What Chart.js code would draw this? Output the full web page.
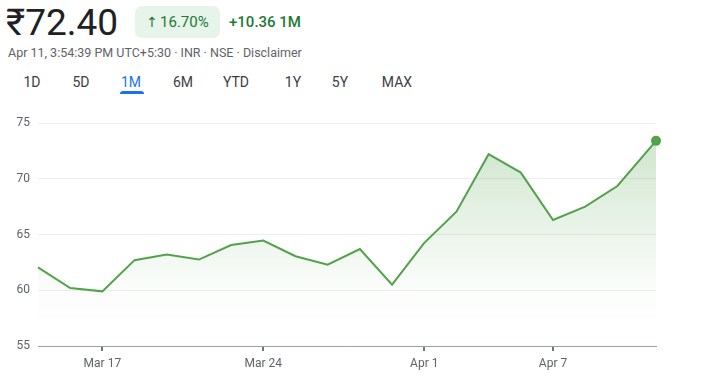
<!DOCTYPE html>
<html>
<head>
<meta charset="utf-8">
<script src="https://cdn.jsdelivr.net/npm/chart.js@4"></script>
<style>
  body {
    margin: 0;
    width: 701px;
    height: 385px;
    background: #fff;
    font-family: Roboto, sans-serif;
    position: relative;
    overflow: hidden;
  }

  .abs {
    position: absolute;
    white-space: nowrap;
  }

  #price {
    left: 6px;
    top: 1px;
    font-size: 37px;
    color: #202124;
    line-height: 44px;
  }

  #badge {
    left: 135px;
    top: 6px;
    width: 85px;
    height: 32px;
    background: #e6f4ea;
    border-radius: 7px;
    color: #1e7a34;
    font-size: 15px;
    line-height: 32px;
    text-align: center;
  }

  #badge .arrow {
    font-family: 'DejaVu Sans', sans-serif;
    font-size: 14px;
    margin-right: 2px;
  }

  #change {
    left: 229px;
    top: 6px;
    line-height: 32px;
    font-size: 15px;
    font-weight: 500;
    color: #1e7a34;
  }

  #sub {
    left: 8px;
    top: 45px;
    font-size: 12.5px;
    color: #5f6368;
    line-height: 16px;
  }

  .tab {
    top: 73px;
    font-size: 14px;
    line-height: 18px;
    color: #3c4043;
    transform: translateX(-50%);
  }

  .tab.on {
    color: #1a73e8;
  }

  #underline {
    left: 120px;
    top: 91px;
    width: 24px;
    height: 3px;
    border-radius: 3px 3px 0 0;
    background: #1a73e8;
  }

  #wrap {
    position: absolute;
    left: 0;
    top: 106px;
    width: 701px;
    height: 279px;
  }
</style>
</head>
<body>

<div class="abs" id="price">₹72.40</div>
<div class="abs" id="badge"><span class="arrow">↑</span>16.70%</div>
<div class="abs" id="change">+10.36 1M</div>
<div class="abs" id="sub">Apr 11, 3:54:39 PM UTC+5:30 · INR · NSE · Disclaimer</div>

<div id="tabs"></div>
<div class="abs" id="underline"></div>

<div id="wrap">
  <canvas id="chart"></canvas>
</div>

<script>
// DATA

const dates = [
  'Mar 12', 'Mar 13', 'Mar 17', 'Mar 18', 'Mar 19',
  'Mar 20', 'Mar 21', 'Mar 24', 'Mar 25', 'Mar 26',
  'Mar 27', 'Mar 28', 'Apr 1', 'Apr 2', 'Apr 3',
  'Apr 4', 'Apr 7', 'Apr 8', 'Apr 9', 'Apr 11',
];

// trading session position (last one is intraday, a bit further out)
const sessions = [
  0, 1, 2, 3, 4,
  5, 6, 7, 8, 9,
  10, 11, 12, 13, 14,
  15, 16, 17, 18, 19.2,
];

const prices = [
  62.05, 60.2, 59.9, 62.7, 63.2,
  62.75, 64.05, 64.45, 63.05, 62.3,
  63.7, 60.5, 64.25, 67.05, 72.2,
  70.55, 66.3, 67.5, 69.35, 73.4,
];

const tickDates = [
  'Mar 17', 'Mar 24', 'Apr 1', 'Apr 7',
];

const yTicks = [
  55, 60, 65, 70, 75,
];

const ranges = [
  '1D', '5D', '1M', '6M', 'YTD', '1Y', '5Y', 'MAX',
];

const rangeCenters = [
  32, 81, 131, 183, 236, 293, 340, 397,
];

const activeRange = '1M';

// TABS

const tabs =
  document.getElementById('tabs');

ranges.forEach((r, i) => {
  const el = document.createElement('div');
  el.className =
    'abs tab' + (r === activeRange ? ' on' : '');
  el.style.left = rangeCenters[i] + 'px';
  el.textContent = r;
  tabs.appendChild(el);
});

// CHART

const green = '#54a14c';

const points =
  sessions.map((s, i) => ({
    x: s,
    y: prices[i],
  }));

const tickValues =
  tickDates.map(d => sessions[dates.indexOf(d)]);

new Chart(
  document.getElementById('chart'),
  {
    type: 'line',

    data: {
      datasets: [
        {
          data: points,

          borderColor: green,

          borderWidth: 2,

          tension: 0,

          fill: 'start',

          backgroundColor: ctx => {
            const area = ctx.chart.chartArea;
            if (!area) return 'rgba(84,161,76,0.2)';
            const g = ctx.chart.ctx.createLinearGradient(
              0, area.top, 0, area.bottom
            );
            g.addColorStop(0, 'rgba(84,161,76,0.30)');
            g.addColorStop(0.75, 'rgba(84,161,76,0.02)');
            g.addColorStop(1, 'rgba(84,161,76,0)');
            return g;
          },

          pointRadius:
            prices.map((p, i) => i === prices.length - 1 ? 5 : 0),

          pointBackgroundColor: green,

          pointBorderWidth: 0,

          pointHoverRadius: 0,

          clip: false,
        },
      ],
    },

    options: {
      responsive: true,
      maintainAspectRatio: false,
      animation: false,

      events: [],

      layout: {
        padding: {
          top: 17,
          right: 45,
          left: 0,
          bottom: 0,
        },
      },

      plugins: {
        legend: { display: false },
        tooltip: { enabled: false },
      },

      scales: {
        x: {
          type: 'linear',
          min: 0,
          max: sessions[sessions.length - 1],

          afterBuildTicks: scale => {
            scale.ticks =
              tickValues.map(v => ({ value: v }));
          },

          afterFit: scale => {
            scale.height = 39;
          },

          ticks: {
            autoSkip: false,
            maxRotation: 0,
            padding: 6,
            color: '#5f6368',
            font: {
              family: 'Roboto',
              size: 12,
            },
            callback: v =>
              tickDates[tickValues.indexOf(v)],
          },

          grid: {
            drawOnChartArea: false,
            drawTicks: true,
            tickLength: 5,
            color: '#70757a',
            lineWidth: 2,
          },

          border: {
            display: true,
            color: '#9aa0a6',
            width: 1,
          },
        },

        y: {
          min: yTicks[0],
          max: yTicks[yTicks.length - 1],

          afterBuildTicks: scale => {
            scale.ticks =
              yTicks.map(v => ({ value: v }));
          },

          afterFit: scale => {
            scale.width = 38;
          },

          ticks: {
            padding: 8,
            color: '#5f6368',
            font: {
              family: 'Roboto',
              size: 12,
            },
          },

          grid: {
            drawTicks: false,
            color: '#eceff1',
          },

          border: {
            display: false,
          },
        },
      },
    },
  }
);
</script>
</body>
</html>
